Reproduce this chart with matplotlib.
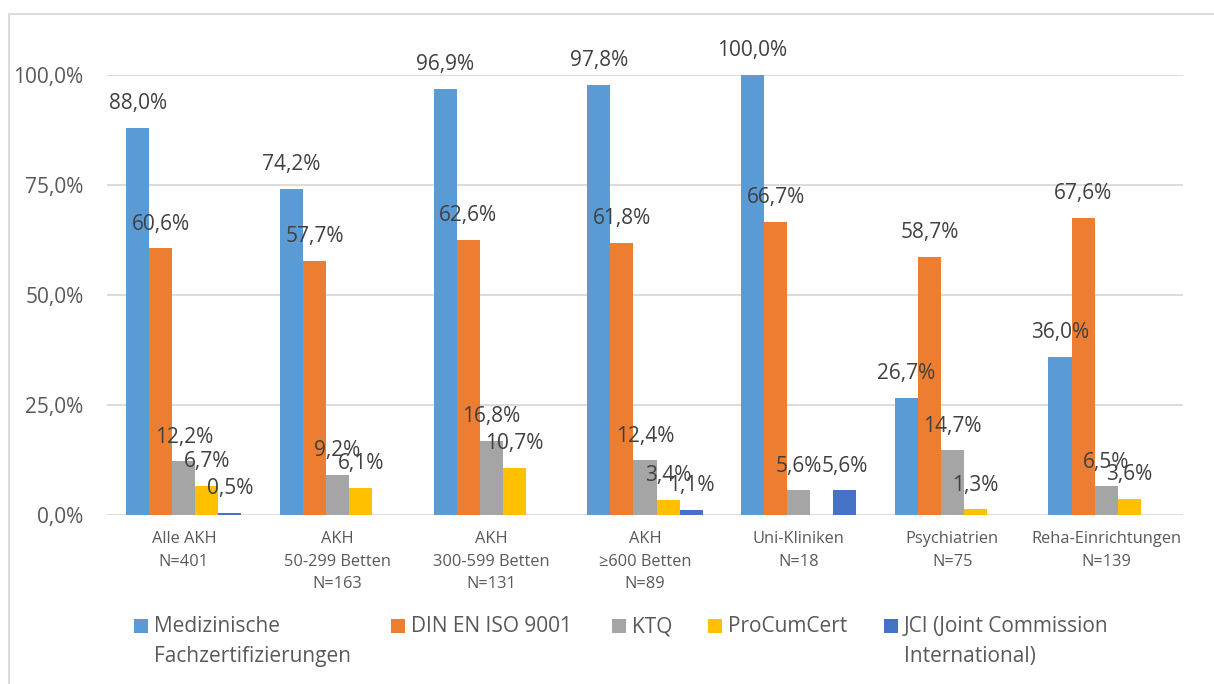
import matplotlib
matplotlib.use("Agg")
import matplotlib.pyplot as plt
from matplotlib.patches import Rectangle
import numpy as np

plt.rcParams['font.family'] = ['Open Sans', 'DejaVu Sans']

categories = ["Alle AKH\nN=401", "AKH\n50-299 Betten\nN=163", "AKH\n300-599 Betten\nN=131",
              "AKH\n≥600 Betten\nN=89", "Uni-Kliniken\nN=18", "Psychiatrien\nN=75",
              "Reha-Einrichtungen\nN=139"]
series_names = ["Medizinische\nFachzertifizierungen", "DIN EN ISO 9001", "KTQ", "ProCumCert",
                "JCI (Joint Commission\nInternational)"]
med = [88.0, 74.2, 96.9, 97.8, 100.0, 26.7, 36.0]
din = [60.6, 57.7, 62.6, 61.8, 66.7, 58.7, 67.6]
ktq = [12.2, 9.2, 16.8, 12.4, 5.6, 14.7, 6.5]
pcc = [6.7, 6.1, 10.7, 3.4, 0.0, 1.3, 3.6]
jci = [0.5, 0.0, 0.0, 1.1, 5.6, 0.0, 0.0]
yticks = [0, 25, 50, 75, 100]
ytick_labels = ["0,0%", "25,0%", "50,0%", "75,0%", "100,0%"]

colors = ["#5B9BD5", "#ED7D31", "#A5A5A5", "#FFC000", "#4472C4"]
data = [med, din, ktq, pcc, jci]

W, H = 1214, 684
fig = plt.figure(figsize=(W / 100, H / 100), dpi=100)
ax = fig.add_axes([107 / W, 1 - 515 / H, (1183 - 107) / W, (515 - 75) / H])

n = len(categories)
x = np.arange(n)
bw = 0.15
for i, (vals, c) in enumerate(zip(data, colors)):
    pos = x + (i - 2) * bw
    ax.bar(pos, vals, width=bw, color=c, zorder=3)
    for p, v in zip(pos, vals):
        if v > 0:
            ax.annotate(f"{v:.1f}%".replace(".", ","), (p, v), xytext=(0, 13.5),
                        textcoords="offset points", ha="center", va="baseline",
                        fontsize=15, color="#404040", zorder=5, annotation_clip=False)

ax.set_xlim(-0.5, n - 0.5)
ax.set_ylim(0, 100)
ax.set_yticks(yticks)
ax.set_yticklabels(ytick_labels, fontsize=15, color="#595959")
ax.set_xticks(x)
ax.set_xticklabels(categories, fontsize=11.75, color="#595959", linespacing=1.55)
ax.tick_params(axis="both", length=0)
ax.tick_params(axis="y", pad=17)
ax.tick_params(axis="x", pad=11.5)
ax.grid(axis="y", color="#D9D9D9", linewidth=1.3, zorder=0)
for s in ax.spines.values():
    s.set_visible(False)

# outer border
fig.add_artist(Rectangle((8.5 / W, -0.1), 1.2, 1 - 13.5 / H + 0.1, transform=fig.transFigure,
                         fill=False, edgecolor="#D9D9D9", linewidth=1.3))

# legend
leg_x = [134, 391, 612, 708, 884]
for lx, name, c in zip(leg_x, series_names, colors):
    fig.add_artist(Rectangle((lx / W, 1 - 633 / H), 14 / W, 14 / H, transform=fig.transFigure,
                             facecolor=c, edgecolor="none"))
    fig.text((lx + 20) / W, 1 - 616 / H, name, fontsize=15, color="#595959",
             va="top", ha="left", linespacing=1.55)

fig.savefig("out.png", dpi=100)
